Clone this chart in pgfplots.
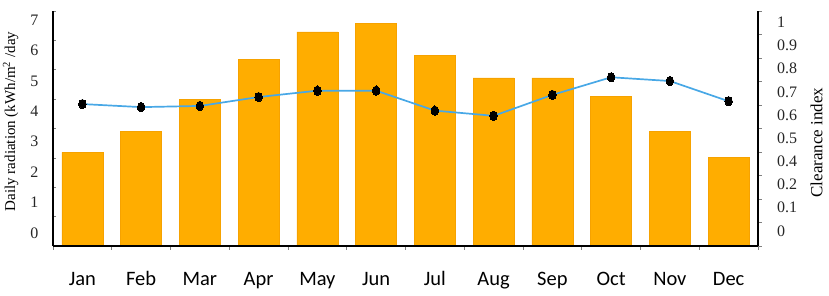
\documentclass[border=0pt]{standalone}
\usepackage{pgfplots}
\pgfplotsset{compat=1.18}
\usepackage{fontspec}
\setmainfont{Liberation Serif}
\newfontfamily\calibri{Carlito}
\definecolor{barorange}{RGB}{255,173,0}
\definecolor{baredge}{RGB}{246,162,0}
\definecolor{lineblue}{RGB}{72,168,230}
\begin{document}
\begin{tikzpicture}
\pgfplotsset{
  every axis/.append style={scale only axis, width=705pt, height=235pt, xmin=0.5, xmax=12.5,
    axis line style={line width=1.6pt, black, -},
    tick style={gray, line width=0.7pt},
    major tick length=3.5pt,
    yticklabel style={font=\fontsize{16}{19}\selectfont, text=black!85},
  },
}
\begin{axis}[
  ymin=0, ymax=8,
  axis x line*=bottom, axis y line*=left,
  tick align=inside,
  xtick={1,...,12},
  xticklabels={Jan,Feb,Mar,Apr,May,Jun,Jul,Aug,Sep,Oct,Nov,Dec},
  xtick style={draw=none},
  xticklabel style={font=\calibri\fontsize{20.5}{24}\selectfont, text height=14pt, text depth=4pt, yshift=-22pt},
  ytick={0,...,8}, yticklabels={},
  extra y ticks={0.44,1.48,2.51,3.55,4.58,5.62,6.66,7.69},
  extra y tick labels={0,1,2,3,4,5,6,7},
  extra y tick style={tick style={draw=none}, yticklabel style={xshift=-11pt}},
  ylabel={Daily radiation (kWh/m\textsuperscript{2} /day},
  ylabel style={font=\fontsize{15}{17}\selectfont, at={(axis description cs:-0.060,0.53)}, anchor=center},
]
\addplot[ybar, bar width=0.7, fill=barorange, draw=baredge, line width=0.6pt]
  coordinates {(1,3.19) (2,3.90) (3,4.98) (4,6.35) (5,7.29) (6,7.58)
               (7,6.50) (8,5.72) (9,5.72) (10,5.09) (11,3.90) (12,3.02)};
\end{axis}
\begin{axis}[
  ymin=0, ymax=1,
  axis x line*=bottom, axis y line*=right,
  tick align=outside,
  xtick={0.5,1.5,...,12.5}, xticklabels={},
  ytick={0,0.1,...,1.0}, yticklabels={},
  extra y ticks={0.064,0.163,0.261,0.360,0.459,0.557,0.656,0.755,0.853,0.952},
  extra y tick labels={0,0.1,0.2,0.4,0.5,0.6,0.7,0.8,0.9,1},
  extra y tick style={tick style={draw=none}, yticklabel style={xshift=12pt, anchor=west}},
  ylabel={Clearance index},
  ylabel style={font=\fontsize{17}{20}\selectfont, at={(axis description cs:1.083,0.44)}, anchor=center},
]
\addplot[lineblue, line width=1.7pt, mark=*, mark size=4.7pt,
  mark options={black, fill=black, xscale=0.8, line width=0pt}]
  coordinates {(1,0.604) (2,0.591) (3,0.596) (4,0.634) (5,0.661) (6,0.661)
               (7,0.576) (8,0.554) (9,0.643) (10,0.718) (11,0.702) (12,0.616)};
\end{axis}
\pgfresetboundingbox
\path (-53pt,-49pt) rectangle (776pt,246pt);
\end{tikzpicture}
\end{document}
